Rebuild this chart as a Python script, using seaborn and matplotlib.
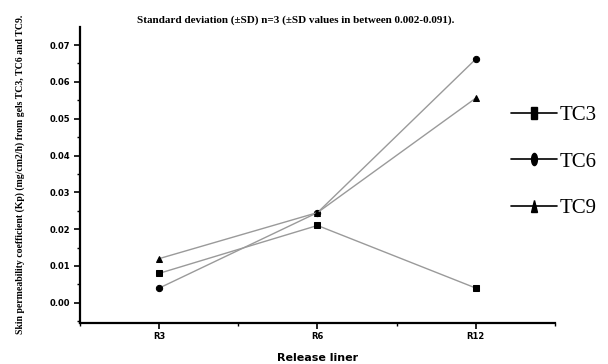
import matplotlib
matplotlib.use("Agg")
import matplotlib.pyplot as plt
from matplotlib.lines import Line2D
from matplotlib.markers import MarkerStyle
from matplotlib.transforms import Affine2D
from matplotlib.ticker import MultipleLocator, FixedLocator
import pandas as pd
import seaborn as sns

liners = ["R3", "R6", "R12"]
tc3 = [0.008, 0.021, 0.004]
tc6 = [0.004, 0.0245, 0.0662]
tc9 = [0.012, 0.0245, 0.0556]
series_names = ["TC3", "TC6", "TC9"]
series_markers = ["s", "o", "^"]

df = pd.DataFrame({
    "liner": liners * 3,
    "kp": tc3 + tc6 + tc9,
    "gel": [n for n in series_names for _ in liners],
})

sns.set_style("ticks")
plt.rcParams["font.family"] = ["Liberation Serif", "DejaVu Serif"]
plt.rcParams["text.color"] = "black"
plt.rcParams["axes.labelcolor"] = "black"
plt.rcParams["xtick.color"] = "black"
plt.rcParams["ytick.color"] = "black"

fig = plt.figure(figsize=(6.08, 3.64), dpi=100)
ax = fig.add_axes([0.1316, 0.1135, 0.7812, 0.8123])

for name, mk in zip(series_names, series_markers):
    sub = df[df["gel"] == name]
    sns.lineplot(data=sub, x="liner", y="kp", ax=ax, sort=False,
                 color="#9a9a9a", linewidth=1.0, marker=mk, markersize=4.5,
                 markerfacecolor="black", markeredgecolor="black")

ax.set_xlim(-0.5, 2.5)
ax.set_ylim(-0.0054, 0.0749)
ax.set_xticks([0, 1, 2])
ax.set_xticklabels(liners)
ax.xaxis.set_minor_locator(FixedLocator([-0.5, 0.5, 1.5, 2.5]))
ax.set_yticks([0.00, 0.01, 0.02, 0.03, 0.04, 0.05, 0.06, 0.07])
ax.set_yticklabels([f"{v:.2f}" for v in ax.get_yticks()])
ax.yaxis.set_minor_locator(MultipleLocator(0.005))

for lab in ax.get_xticklabels() + ax.get_yticklabels():
    lab.set_fontfamily("DejaVu Sans")
    lab.set_fontweight("bold")
    lab.set_fontsize(6)
    lab.set_color("black")
ax.tick_params(which="major", length=4, width=1.2, color="black", pad=3)
ax.tick_params(which="minor", length=2.5, width=1.0, color="black")

for s in ("top", "right"):
    ax.spines[s].set_visible(False)
for s in ("left", "bottom"):
    ax.spines[s].set_linewidth(1.6)
    ax.spines[s].set_color("black")

ax.set_xlabel("Release liner", fontsize=8, fontweight="bold",
              fontfamily="DejaVu Sans", labelpad=8, color="black")
ax.set_ylabel("Skin permeability coefficient (Kp) (mg/cm2/h) from gels TC3, TC6 and TC9.",
              fontsize=7, fontweight="bold", labelpad=18, color="black")

fig.text(0.487, 0.945, "Standard deviation (\u00b1SD) n=3 (\u00b1SD values in between 0.002-0.091).",
         ha="center", va="center", fontsize=8, fontweight="bold", color="black")

# tall, narrow legend glyphs
narrow = Affine2D().scale(0.6, 1.25)
handles = [Line2D([], [], color="black", linewidth=1.2,
                  marker=MarkerStyle(mk, transform=narrow), markersize=7,
                  markerfacecolor="black", markeredgecolor="black")
           for mk in series_markers]
leg = fig.legend(handles, series_names, loc="center left",
                 bbox_to_anchor=(0.840, 0.555), frameon=False, fontsize=15,
                 handlelength=2.2, handletextpad=0.15, labelspacing=1.3,
                 borderpad=0, borderaxespad=0)
for t in leg.get_texts():
    t.set_color("black")

fig.savefig("out.png", dpi=100, facecolor="white")
